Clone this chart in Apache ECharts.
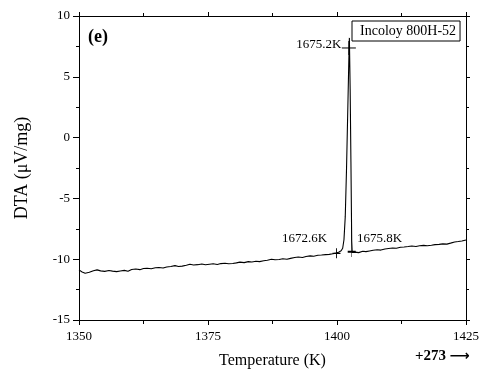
<!DOCTYPE html>
<html>
<head>
<meta charset="utf-8">
<script src="https://cdn.jsdelivr.net/npm/echarts@6/dist/echarts.min.js"></script>
<style>html,body{margin:0;padding:0;background:#fff;}#c{width:484px;height:376px;}</style>
</head>
<body>
<div id="c"></div>
<script>
// ---- data (temperature in °C on axis, DTA in µV/mg) ----
const temps = [1350,1350.6,1351.2,1352,1352.8,1353.5,1354.2,1355,1355.8,1356.5,1357.3,1358,1358.8,1359.5,1360.2,1361,1361.8,1362.5,1363.2,1364,1364.8,1365.5,1366.3,1367,1367.8,1368.6,1369.3,1370,1370.8,1371.5,1372.2,1373,1373.8,1374.5,1375.3,1376,1376.8,1377.5,1378.3,1379,1379.8,1380.5,1381.2,1382,1382.8,1383.5,1384.3,1385,1385.8,1386.5,1387.3,1388,1388.8,1389.5,1390.3,1391,1391.8,1392.5,1393.3,1394,1394.8,1395.5,1396.3,1397,1397.8,1398.5,1399.2,1399.8,1400.3,1400.8,1401.1,1401.35,1401.6,1401.85,1402.1,1402.3,1402.4,1402.55,1402.7,1402.85,1402.95,1403.5,1404.2,1405,1405.3,1405.6,1406.3,1407,1407.8,1408.5,1409.3,1410,1410.8,1411.5,1412.3,1413,1413.8,1414.5,1415.3,1416,1416.8,1417.5,1418.3,1419,1419.8,1420.5,1421.3,1422,1422.8,1423.5,1424.2,1425];
const dta = [-10.88,-11.05,-11.15,-11.08,-10.95,-10.88,-10.96,-11.0,-10.93,-10.98,-11.02,-10.97,-10.92,-10.99,-10.85,-10.8,-10.86,-10.77,-10.74,-10.79,-10.7,-10.68,-10.73,-10.64,-10.6,-10.53,-10.6,-10.57,-10.5,-10.42,-10.48,-10.45,-10.4,-10.46,-10.41,-10.38,-10.44,-10.36,-10.33,-10.37,-10.35,-10.3,-10.24,-10.28,-10.2,-10.23,-10.17,-10.2,-10.13,-10.08,-10.0,-10.05,-10.02,-9.96,-10.0,-9.93,-9.86,-9.82,-9.86,-9.78,-9.73,-9.76,-9.68,-9.66,-9.62,-9.6,-9.55,-9.5,-9.42,-9.3,-9.1,-8.4,-6.5,-2.5,2.5,6.5,8.2,4.0,-2.0,-8.5,-9.45,-9.42,-9.46,-9.35,-9.25,-9.38,-9.32,-9.26,-9.22,-9.25,-9.16,-9.12,-9.08,-9.1,-9.02,-9.0,-8.96,-8.92,-8.95,-8.9,-8.86,-8.9,-8.85,-8.8,-8.78,-8.74,-8.76,-8.68,-8.58,-8.55,-8.5,-8.42];

const markerTemps = [1402.3, 1399.9, 1402.85];
const markerValues = [7.37, -9.52, -9.38];
const markerLabels = ['1675.2K', '1672.6K', '1675.8K'];

const xTicks = [1350, 1375, 1400, 1425];
const yTicks = [-15, -10, -5, 0, 5, 10];
const seriesName = 'Incoloy 800H-52';
const panelLabel = '(e)';
const offsetLabel = '+273';

const serif = '"Liberation Serif", "Times New Roman", serif';
const chart = echarts.init(document.getElementById('c'), null, {renderer: 'canvas'});

const markerStyles = [
  {symbol: 'path://M0,7L14,7M7,0L7,14', symbolSize: [14, 14], symbolOffset: [0, 0],
   label: {position: 'left', distance: 0, offset: [0, -3]}},
  {symbol: 'path://M0,5L8,5M4,0L4,10', symbolSize: [8, 10], symbolOffset: [0, 0],
   label: {position: 'left', distance: 5, offset: [0, -15]}},
  {symbol: 'path://M0,25.7L8,25.7M4,0L4,31', symbolSize: [8, 31], symbolOffset: [0, -10.2],
   label: {position: 'right', distance: 1, offset: [0, -3]}}
];

const markerData = markerTemps.map((t, i) => ({
  value: [t, markerValues[i]],
  symbol: markerStyles[i].symbol,
  symbolSize: markerStyles[i].symbolSize,
  symbolOffset: markerStyles[i].symbolOffset,
  label: Object.assign({show: true, formatter: markerLabels[i], color: '#000', fontFamily: serif, fontSize: 13}, markerStyles[i].label)
}));

const axisCommon = {
  axisLine: {show: true, onZero: false, lineStyle: {color: '#000', width: 1}},
  splitLine: {show: false},
  minorSplitLine: {show: false}
};

chart.setOption({
  animation: false,
  backgroundColor: '#fff',
  grid: {left: 79, right: 18, top: 16, bottom: 56, containLabel: false},
  legend: {
    data: [{name: seriesName, icon: 'none'}],
    left: 352, top: 21, itemWidth: 0, itemHeight: 0, itemGap: 0,
    padding: [3, 4, 3, 3], borderColor: '#000', borderWidth: 1,
    selectedMode: false,
    textStyle: {color: '#000', fontFamily: serif, fontSize: 14}
  },
  xAxis: [
    Object.assign({}, axisCommon, {
      type: 'value', min: 1350, max: 1425, interval: 25, position: 'bottom',
      name: 'Temperature (K)', nameLocation: 'middle', nameGap: 33,
      nameTextStyle: {color: '#000', fontFamily: serif, fontSize: 16},
      axisTick: {show: true, inside: false, length: 5, lineStyle: {color: '#000'}},
      minorTick: {show: true, splitNumber: 2, length: 4, lineStyle: {color: '#000'}},
      axisLabel: {color: '#000', fontFamily: serif, fontSize: 13, margin: 10,
        formatter: v => xTicks.indexOf(v) >= 0 ? String(v) : ''}
    }),
    Object.assign({}, axisCommon, {
      type: 'value', min: 1350, max: 1425, interval: 25, position: 'top',
      axisTick: {show: true, inside: false, length: 4, lineStyle: {color: '#000'}},
      minorTick: {show: true, splitNumber: 2, length: 3, lineStyle: {color: '#000'}},
      axisLabel: {show: false}
    })
  ],
  yAxis: [
    Object.assign({}, axisCommon, {
      type: 'value', min: -15, max: 10, interval: 5, position: 'left',
      name: 'DTA (\u03bcV/mg)', nameLocation: 'middle', nameGap: 48, nameRotate: 90,
      nameTextStyle: {color: '#000', fontFamily: serif, fontSize: 18},
      axisTick: {show: true, inside: false, length: 6, lineStyle: {color: '#000'}},
      minorTick: {show: true, splitNumber: 2, length: 3, lineStyle: {color: '#000'}},
      axisLabel: {color: '#000', fontFamily: serif, fontSize: 13, margin: 9,
        formatter: v => yTicks.indexOf(v) >= 0 ? String(v) : ''}
    }),
    Object.assign({}, axisCommon, {
      type: 'value', min: -15, max: 10, interval: 5, position: 'right',
      axisTick: {show: true, inside: false, length: 4, lineStyle: {color: '#000'}},
      minorTick: {show: true, splitNumber: 2, length: 3, lineStyle: {color: '#000'}},
      axisLabel: {show: false}
    })
  ],
  graphic: [
    {type: 'text', left: 88, top: 28, style: {text: panelLabel, fill: '#000', font: 'bold 18px ' + serif}},
    {type: 'text', left: 415, top: 349, style: {
      text: '{a|' + offsetLabel + '} {b|\u27f6}',
      rich: {a: {fontFamily: serif, fontWeight: 'bold', fontSize: 15, fill: '#000', color: '#000'},
             b: {fontFamily: '"DejaVu Sans"', fontSize: 14, color: '#000', fontWeight: 'bold'}}
    }}
  ],
  series: [
    {
      name: seriesName, type: 'line', xAxisIndex: 0, yAxisIndex: 0,
      data: temps.map((t, i) => [t, dta[i]]),
      showSymbol: false, symbol: 'none',
      lineStyle: {color: '#000', width: 1.1},
      itemStyle: {color: '#000'}
    },
    {
      name: 'markers', type: 'scatter', xAxisIndex: 0, yAxisIndex: 0,
      data: markerData,
      itemStyle: {color: 'rgba(0,0,0,0)', borderColor: '#000', borderWidth: 1, opacity: 1},
      z: 5
    }
  ]
});
</script>
</body>
</html>
